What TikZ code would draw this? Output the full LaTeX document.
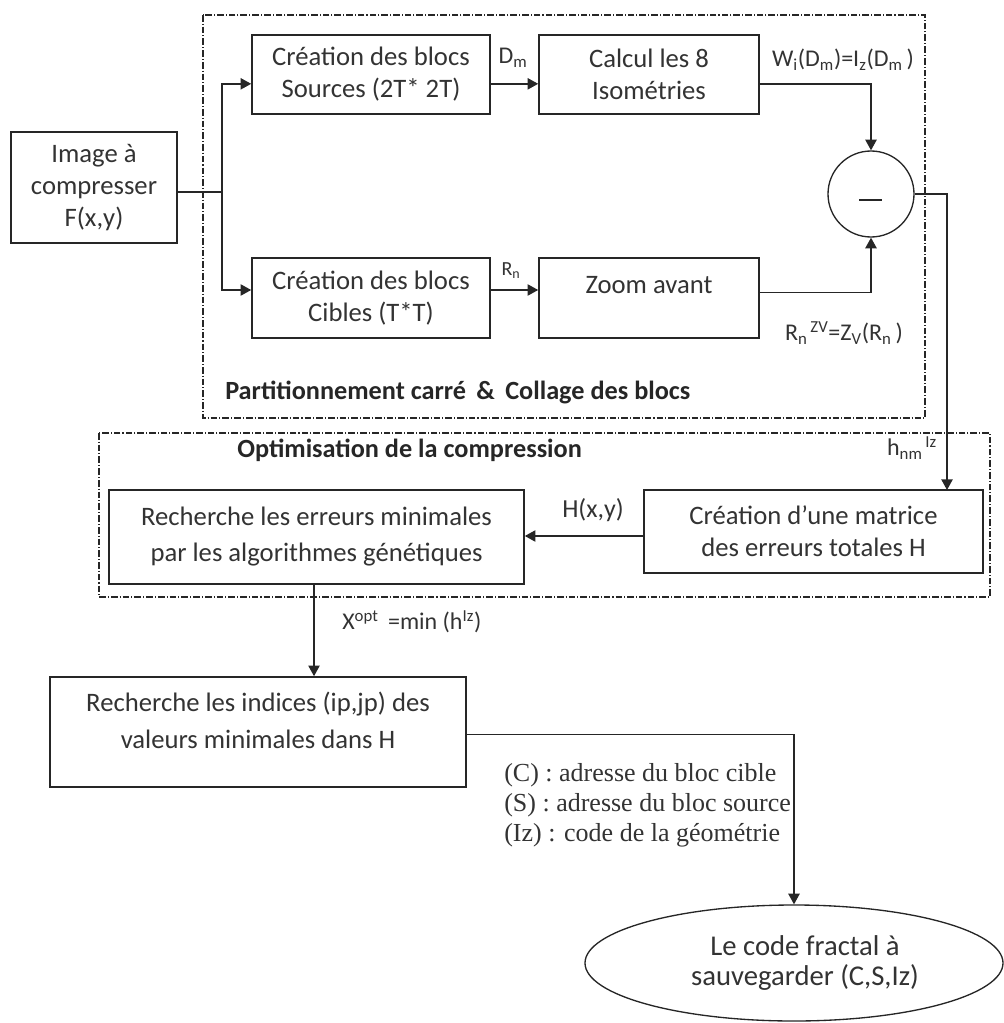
\documentclass[tikz,border=0pt]{standalone}
\usepackage{fontspec}
\setmainfont{Carlito}
\newfontfamily\serifnote{Liberation Serif}
\usetikzlibrary{arrows.meta,shapes.geometric,calc}
\definecolor{ink}{HTML}{262626}
\definecolor{txtc}{HTML}{333333}
\begin{document}
\begin{tikzpicture}[x=0.75pt,y=-0.75pt,
  font=\fontsize{20pt}{24pt}\selectfont,
  box/.style={draw=ink, line width=1.2pt, inner sep=0pt, align=center, text=txtc},
  grp/.style={draw=ink, line width=0.8pt, dash pattern=on 5pt off 1.5pt on 0.8pt off 1.5pt},
  arr/.style={draw=ink, line width=1.1pt, -{Triangle[length=8pt,width=8.5pt]}},
  con/.style={draw=ink, line width=1.1pt},
  lbl/.style={text=txtc, inner sep=0pt, font=\fontsize{18pt}{22pt}\selectfont},
  ttl/.style={text=black!85, inner sep=0pt, font=\fontsize{19.7pt}{24pt}\selectfont\bfseries}]
\useasboundingbox (0,0) rectangle (1003,1023);

% grouping frames
\draw[grp] (203,15) rectangle (925,418);
\draw[grp] (99,433) rectangle (990,597);
\node[ttl, anchor=west] (t1) at (225,392) {Partitionnement carré \,\& \,Collage des blocs};
\node[ttl, anchor=west] (t2) at (237,450) {Optimisation de la compression};

% blocks (sizes in pt, centres in the picture grid)
\node[box, minimum width=124.5pt, minimum height=83.25pt] (img) at (94,187.5) {Image à\\compresser\\F(x,y)};
\node[box, minimum width=178.5pt, minimum height=59.25pt] (src) at (371,74.5) {Création des blocs\\Sources (2T* 2T)};
\node[box, minimum width=178.5pt, minimum height=60pt] (cib) at (371,298) {Création des blocs\\Cibles (T*T)};
\node[box, minimum width=165pt, minimum height=59.25pt] (iso) at (649,74.5) {Calcul les 8\\Isométries};
\node[box, minimum width=165pt, minimum height=60pt] (zoom) at (649,298) {};
\node[text=txtc, inner sep=0pt] (zoomtxt) at (649,285) {Zoom avant};
\node[draw=ink, line width=1pt, circle, minimum size=64.5pt, inner sep=0pt] (circ) at (871,194) {};
\draw[con] ([shift={(-12,6)}]circ.center) -- ([shift={(11,6)}]circ.center);
\node[box, minimum width=254.25pt, minimum height=62.25pt] (mat) at (813.5,531.5) {Création d'une matrice\\des erreurs totales H};
\node[box, minimum width=311.25pt, minimum height=70.5pt, font=\fontsize{20pt}{27pt}\selectfont] (rech) at (316.5,537) {Recherche les erreurs minimales\\par les algorithmes génétiques};
\node[box, minimum width=312pt, minimum height=82.5pt] (idx) at (258,732) {};
\node[text=txtc, inner sep=0pt, align=center, font=\fontsize{20pt}{27.7pt}\selectfont] (idxtxt) at (258,720) {Recherche les indices (ip,jp) des\\valeurs minimales dans H};
\node[draw=ink, line width=1pt, ellipse, minimum width=313.5pt, minimum height=87pt, inner sep=0pt] (fin) at (794,963) {};
\node[text=txtc, inner sep=0pt, align=center, font=\fontsize{21.5pt}{23pt}\selectfont] (fintxt) at (805,963) {Le code fractal à\\sauvegarder (C,S,Iz)};

% connectors
\coordinate (split) at (222,192);
\draw[con] (img.east |- split) -- (split);
\draw[arr] (split) |- ([yshift=-7pt]src.west);
\draw[arr] (split) |- ([yshift=6pt]cib.west);
\draw[arr] ([yshift=-7pt]src.east) -- ([yshift=-7pt]iso.west);
\draw[arr] ([yshift=6pt]cib.east) -- ([yshift=6pt]zoom.west);
\draw[arr] ([yshift=-7pt]iso.east) -| (circ.north);
\draw[arr] ([yshift=4pt]zoom.east) -| (circ.south);
\coordinate (hcol) at (947,490);
\draw[arr] (circ.east) -| (hcol);
\draw[arr] (mat.west |- 0,536) -- (rech.east |- 0,536);
\draw[arr] (rech.south -| 314,0) -- (idx.north -| 314,0);
\draw[arr] ([yshift=-2pt]idx.east) -| (fin.north);

% signal labels
\node[lbl] (ldm) at (513,58) {D\textsubscript{m}};
\node[lbl, font=\fontsize{15pt}{18pt}\selectfont] (lrn) at (511,271) {R\textsubscript{n}};
\node[lbl] (lw) at (843,60) {W\textsubscript{i}(D\textsubscript{m})=I\textsubscript{z}(D\textsubscript{m}\,)};
\node[lbl] (lrz) at (844,333) {R\textsubscript{n}\textsuperscript{\,ZV}=Z\textsubscript{V}(R\textsubscript{n}\,)};
\node[lbl] (lh) at (912,448) {h\textsubscript{nm}\textsuperscript{\,Iz}};
\node[lbl, font=\fontsize{19.5pt}{22pt}\selectfont] (lH) at (593,510) {H(x,y)};
\node[lbl, anchor=west] (lx) at (342,622) {X\textsuperscript{opt} \,=min (h\textsuperscript{Iz})};
\node[lbl, anchor=west, align=left, font=\serifnote\fontsize{19.5pt}{22.5pt}\selectfont] (lcs) at (504,805) {(C) : adresse du bloc cible\\(S) : adresse du bloc source\\(Iz) : code de la géométrie};
\end{tikzpicture}
\end{document}
